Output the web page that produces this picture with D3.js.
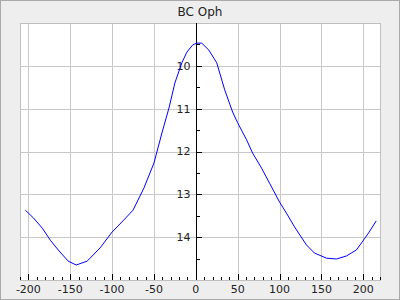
<!DOCTYPE html>
<html>
<head>
<meta charset="utf-8">
<script src="https://cdn.jsdelivr.net/npm/d3@7"></script>
<style>
  html, body { margin: 0; padding: 0; background: #eeeeee; }
  svg { display: block; font-family: "DejaVu Sans", sans-serif; }
</style>
</head>
<body>
<div id="chart"></div>
<script>
const title = 'BC Oph';

// phase offset (x) and magnitude (y)
const phase = [-203.6, -194, -183.3, -173.8, -164.3, -152.4, -142.9, -129.8, -114.3, -100, -87, -75, -61.9, -50, -40.5, -32, -25, -16.7, -10.7, -3.6, 1.2, 7.1, 15.5, 25, 34.5, 44, 50, 60.7, 67.9, 78.6, 88.1, 100, 108.3, 117.9, 132.1, 141.7, 156, 167.9, 179.8, 191.7, 198.8, 207.1, 215.5];
const mag = [13.37, 13.55, 13.79, 14.07, 14.3, 14.56, 14.65, 14.56, 14.25, 13.88, 13.62, 13.37, 12.85, 12.27, 11.57, 10.98, 10.4, 9.93, 9.68, 9.51, 9.47, 9.47, 9.63, 9.93, 10.56, 11.08, 11.33, 11.73, 12.04, 12.39, 12.74, 13.18, 13.44, 13.76, 14.18, 14.37, 14.49, 14.51, 14.44, 14.3, 14.11, 13.88, 13.62];

const xTicks = [-200, -150, -100, -50, 0, 50, 100, 150, 200];
const yTicks = [10, 11, 12, 13, 14];

const width = 400, height = 300;
const plotLeft = 20, plotRight = 380, plotTop = 23, plotBottom = 280;

const x = d3.scaleLinear().domain([-210, 220]).range([plotLeft, plotRight]);
const y = d3.scaleLinear().domain([9, 15]).range([plotTop, plotBottom]);

const svg = d3.select('#chart').append('svg')
  .attr('width', width)
  .attr('height', height);

svg.append('rect')
  .attr('x', 0.5).attr('y', 0.5)
  .attr('width', width - 1).attr('height', height - 1)
  .attr('fill', '#eeeeee').attr('stroke', '#aaaaaa');

svg.append('text')
  .attr('x', width / 2).attr('y', 16)
  .attr('text-anchor', 'middle')
  .attr('font-size', 12)
  .attr('fill', '#222')
  .text(title);

svg.append('rect')
  .attr('x', plotLeft + 0.5).attr('y', plotTop + 0.5)
  .attr('width', plotRight - plotLeft).attr('height', plotBottom - plotTop)
  .attr('fill', '#ffffff');

// grid
const grid = svg.append('g').attr('stroke', '#c8c8c8').attr('shape-rendering', 'crispEdges');
grid.selectAll('.vx').data(xTicks).enter().append('line')
  .attr('x1', d => Math.round(x(d)) + 0.5).attr('x2', d => Math.round(x(d)) + 0.5)
  .attr('y1', plotTop).attr('y2', plotBottom);
grid.selectAll('.hy').data(yTicks).enter().append('line')
  .attr('y1', d => Math.round(y(d)) + 0.5).attr('y2', d => Math.round(y(d)) + 0.5)
  .attr('x1', plotLeft).attr('x2', plotRight);

svg.append('rect')
  .attr('x', plotLeft + 0.5).attr('y', plotTop + 0.5)
  .attr('width', plotRight - plotLeft).attr('height', plotBottom - plotTop)
  .attr('fill', 'none').attr('stroke', '#c0c0c0')
  .attr('shape-rendering', 'crispEdges');

// x axis: ticks pointing up from the bottom frame
const xAxis = svg.append('g').attr('shape-rendering', 'crispEdges');
const minorX = d3.range(-210, 221, 10).filter(d => d % 50 !== 0);
xAxis.selectAll('.mx').data(minorX).enter().append('line')
  .attr('x1', d => Math.round(x(d)) + 0.5).attr('x2', d => Math.round(x(d)) + 0.5)
  .attr('y1', plotBottom).attr('y2', plotBottom - 3)
  .attr('stroke', '#000');
xAxis.selectAll('.Mx').data(xTicks).enter().append('line')
  .attr('x1', d => Math.round(x(d)) + 0.5).attr('x2', d => Math.round(x(d)) + 0.5)
  .attr('y1', plotBottom).attr('y2', plotBottom - 6)
  .attr('stroke', '#000');
xAxis.selectAll('text').data(xTicks).enter().append('text')
  .attr('x', d => x(d)).attr('y', plotBottom + 13)
  .attr('text-anchor', 'middle')
  .attr('font-size', 11)
  .attr('fill', '#222')
  .text(d => d);

// y axis drawn at x = 0
const x0 = Math.round(x(0)) + 0.5;
const yAxis = svg.append('g').attr('shape-rendering', 'crispEdges');
yAxis.append('line')
  .attr('x1', x0).attr('x2', x0)
  .attr('y1', plotTop).attr('y2', plotBottom)
  .attr('stroke', '#000');
const minorY = d3.range(9.5, 15, 1);
yAxis.selectAll('.my').data(minorY).enter().append('line')
  .attr('x1', x0).attr('x2', x0 + 3)
  .attr('y1', d => Math.round(y(d)) + 0.5).attr('y2', d => Math.round(y(d)) + 0.5)
  .attr('stroke', '#000');
yAxis.selectAll('.My').data(yTicks).enter().append('line')
  .attr('x1', x0).attr('x2', x0 + 5)
  .attr('y1', d => Math.round(y(d)) + 0.5).attr('y2', d => Math.round(y(d)) + 0.5)
  .attr('stroke', '#000');
yAxis.selectAll('text').data(yTicks).enter().append('text')
  .attr('x', x0 - 6).attr('y', d => y(d))
  .attr('dy', '0.36em')
  .attr('text-anchor', 'end')
  .attr('font-size', 11)
  .attr('fill', '#222')
  .text(d => d);

// light curve
const points = phase.map((p, i) => [p, mag[i]]);
const line = d3.line().x(d => x(d[0])).y(d => y(d[1]));
svg.append('path')
  .datum(points)
  .attr('d', line)
  .attr('fill', 'none')
  .attr('stroke', '#0000ff')
  .attr('stroke-width', 1);
</script>
</body>
</html>
